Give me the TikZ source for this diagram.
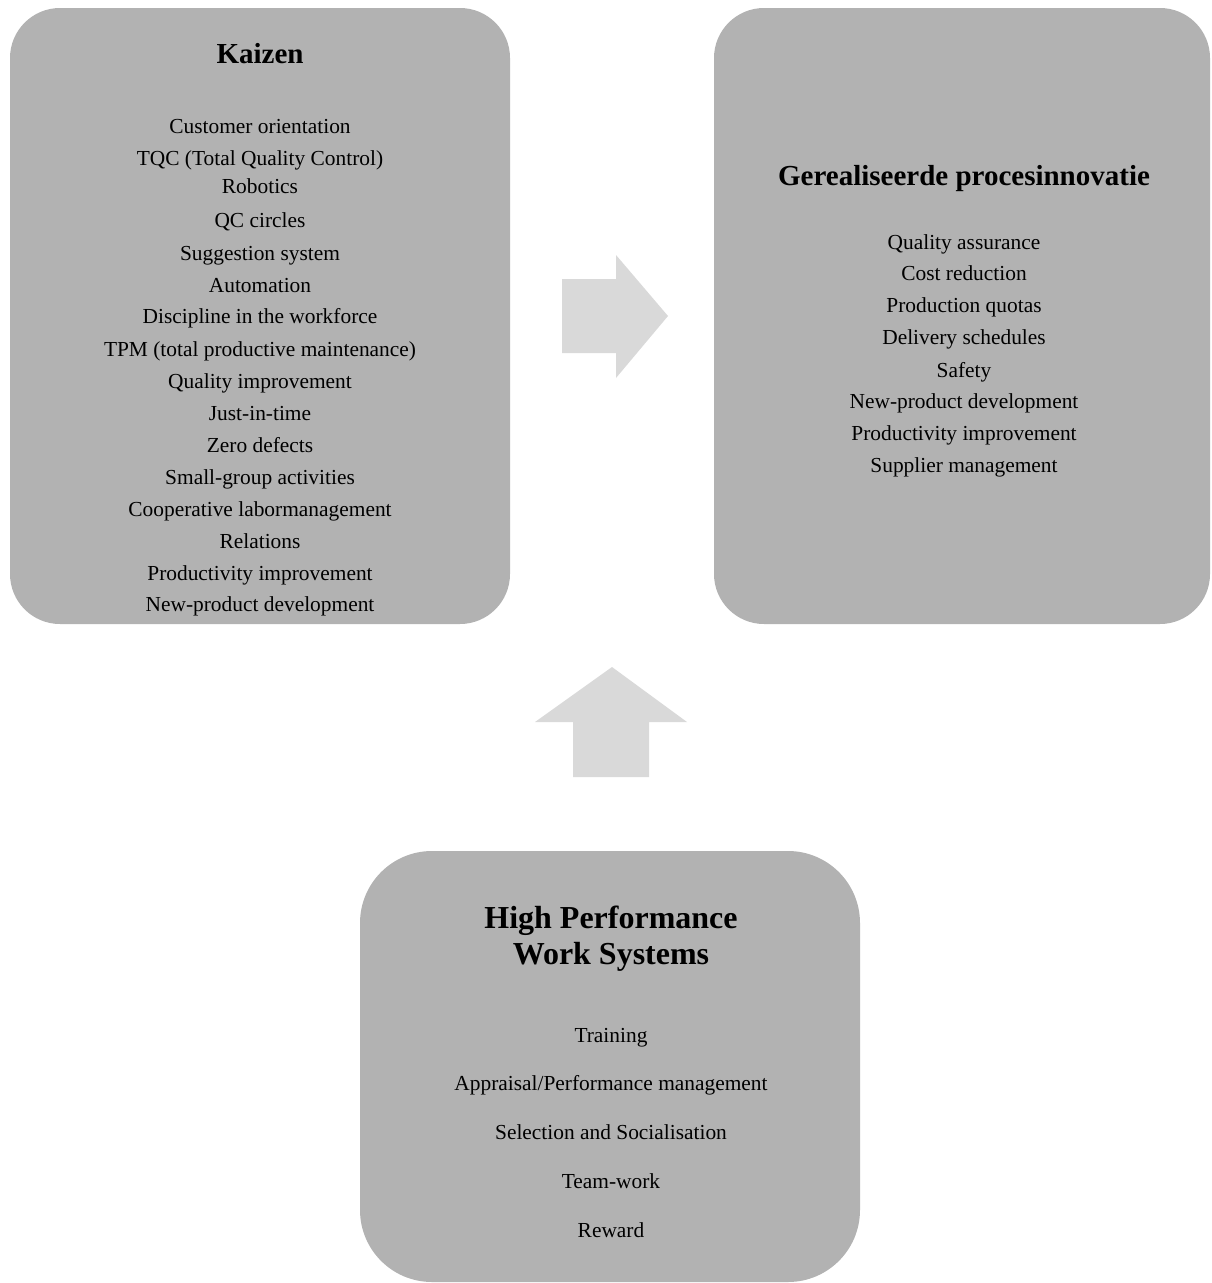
\documentclass[tikz,border=0pt]{standalone}
\usepackage{fontspec}
\setmainfont{Liberation Serif}
\definecolor{boxgray}{HTML}{B2B2B2}
\definecolor{arrowgray}{HTML}{D9D9D9}
\begin{document}
\begin{tikzpicture}[x=1pt,y=-1pt,
  panel/.style={fill=boxgray,draw=none},
  blockarrow/.style={fill=arrowgray,draw=none},
  item/.style={anchor=base,inner sep=0pt,font=\fontsize{21.4}{25}\selectfont},
  ttl/.style={anchor=base,inner sep=0pt,font=\fontsize{29}{34}\selectfont\bfseries},
  bigttl/.style={anchor=base,inner sep=0pt,font=\fontsize{32}{36}\selectfont\bfseries}]
\useasboundingbox (0,0) rectangle (1211,1283);
% panels
\fill[panel,rounded corners=50pt] (10,8) rectangle (510,624);
\fill[panel,rounded corners=50pt] (714,8) rectangle (1210,624);
\fill[panel,rounded corners=72pt] (360,851) rectangle (860,1282);
% block arrows
\fill[blockarrow] (562,279) -- (616,279) -- (616,255) -- (668,316) -- (616,378) -- (616,353) -- (562,353) -- cycle;
\fill[blockarrow] (573,777) -- (573,722) -- (535,722) -- (612,667) -- (687,722) -- (649,722) -- (649,777) -- cycle;
% Kaizen
\node[ttl] (k0) at (260,63) {Kaizen};
\node[item] (k1) at (260,133) {Customer orientation};
\node[item] (k2) at (260,165) {TQC (Total Quality Control)};
\node[item] (k3) at (260,193) {Robotics};
\node[item] (k4) at (260,227) {QC circles};
\node[item] (k5) at (260,260) {Suggestion system};
\node[item] (k6) at (260,292) {Automation};
\node[item] (k7) at (260,323) {Discipline in the workforce};
\node[item] (k8) at (260,356) {TPM (total productive maintenance)};
\node[item] (k9) at (260,388) {Quality improvement};
\node[item] (k10) at (260,420) {Just-in-time};
\node[item] (k11) at (260,452) {Zero defects};
\node[item] (k12) at (260,484) {Small-group activities};
\node[item] (k13) at (260,516) {Cooperative labormanagement};
\node[item] (k14) at (260,548) {Relations};
\node[item] (k15) at (260,580) {Productivity improvement};
\node[item] (k16) at (260,611) {New-product development};
% Gerealiseerde procesinnovatie
\node[ttl] (g0) at (964,185) {Gerealiseerde procesinnovatie};
\node[item] (g1) at (964,249) {Quality assurance};
\node[item] (g2) at (964,280) {Cost reduction};
\node[item] (g3) at (964,312) {Production quotas};
\node[item] (g4) at (964,344) {Delivery schedules};
\node[item] (g5) at (964,377) {Safety};
\node[item] (g6) at (964,408) {New-product development};
\node[item] (g7) at (964,440) {Productivity improvement};
\node[item] (g8) at (964,472) {Supplier management};
% High Performance Work Systems
\node[bigttl] (h0) at (611,928) {High Performance};
\node[bigttl] (h0b) at (611,964) {Work Systems};
\node[item] (h1) at (611,1042) {Training};
\node[item] (h2) at (611,1090) {Appraisal/Performance management};
\node[item] (h3) at (611,1139) {Selection and Socialisation};
\node[item] (h4) at (611,1188) {Team-work};
\node[item] (h5) at (611,1237) {Reward};
\end{tikzpicture}
\end{document}
